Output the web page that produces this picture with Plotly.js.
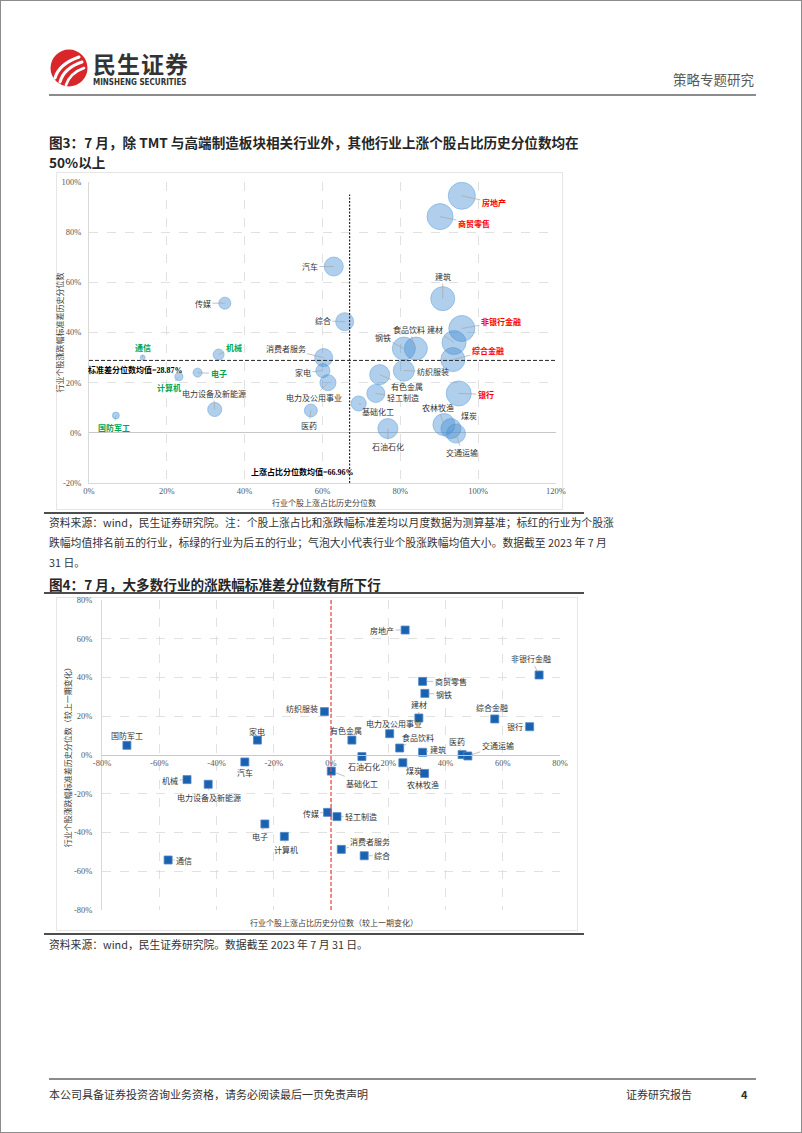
<!DOCTYPE html>
<html><head><meta charset="utf-8">
<script src="https://cdn.plot.ly/plotly-3.0.1.min.js"></script>
<style>
html,body{margin:0;padding:0;background:#fff;}
#page{position:relative;width:802px;height:1133px;box-sizing:border-box;border:1px solid #8c8c8c;overflow:hidden;font-family:"Noto Sans CJK SC","Noto Sans",sans-serif;color:#333;}
.abs{position:absolute;white-space:nowrap;}
.rule{position:absolute;}
.ttl{font-size:13.6px;font-weight:700;line-height:14px;color:#262626;}
.src{font-size:10.8px;line-height:14px;color:#333;}
</style></head>
<body>
<div id="page">
  <svg class="abs" style="left:48px;top:47px" width="40" height="40" viewBox="0 0 40 40">
    <circle cx="20" cy="20" r="18.5" fill="#d9262b"/>
    <path d="M6 30 Q10 16 30 9" stroke="#fff" stroke-width="3" fill="none" stroke-linecap="round"/>
    <path d="M11 34 Q15 20 33 14" stroke="#fff" stroke-width="3" fill="none" stroke-linecap="round"/>
    <path d="M17 37 Q21 25 35 20" stroke="#fff" stroke-width="2.6" fill="none" stroke-linecap="round"/>
  </svg>
  <div class="abs" style="left:92px;top:51px;font-size:23px;font-weight:700;line-height:23px;color:#333;letter-spacing:1px;">民生证券</div>
  <div class="abs" style="left:92px;top:77px;font-size:8px;font-weight:700;line-height:9px;color:#333;font-family:'DejaVu Sans Condensed','Liberation Sans Narrow',sans-serif;">MINSHENG SECURITIES</div>
  <div class="abs" style="left:672px;top:69px;font-size:13.5px;line-height:18px;color:#595959;">策略专题研究</div>
  <div class="rule" style="left:48px;top:93px;width:707px;height:1.5px;background:#8c8c8c;"></div>

  <div class="abs ttl" style="left:48px;top:134px;">图3：7 月，除 TMT 与高端制造板块相关行业外，其他行业上涨个股占比历史分位数均在</div>
  <div class="abs ttl" style="left:48px;top:154px;">50%以上</div>

  <div class="rule" style="left:55px;top:171px;width:507px;height:338px;border:1px solid #e6e6e6;box-sizing:border-box;"></div>
  <div id="c1" class="abs" style="left:45px;top:172px;width:535px;height:338px;"></div>
  <div class="rule" style="left:43px;top:511px;width:540px;height:2px;background:#4d4d4d;"></div>
  <div class="abs src" style="left:48px;top:514px;">资料来源：wind，民生证券研究院。注：个股上涨占比和涨跌幅标准差均以月度数据为测算基准；标红的行业为个股涨</div>
  <div class="abs src" style="left:48px;top:534px;">跌幅均值排名前五的行业，标绿的行业为后五的行业；气泡大小代表行业个股涨跌幅均值大小。数据截至 2023 年 7 月</div>
  <div class="abs src" style="left:48px;top:554px;">31 日。</div>

  <div class="abs ttl" style="left:48px;top:576px;">图4：7 月，大多数行业的涨跌幅标准差分位数有所下行</div>
  <div class="rule" style="left:43px;top:591px;width:540px;height:2px;background:#4d4d4d;"></div>
  <div class="rule" style="left:55px;top:596px;width:522px;height:334px;border:1px solid #e6e6e6;box-sizing:border-box;"></div>
  <div id="c2" class="abs" style="left:55px;top:593px;width:525px;height:338px;"></div>
  <div class="rule" style="left:43px;top:932px;width:540px;height:2px;background:#4d4d4d;"></div>
  <div class="abs src" style="left:48px;top:936px;">资料来源：wind，民生证券研究院。数据截至 2023 年 7 月 31 日。</div>

  <div class="rule" style="left:48px;top:1077px;width:707px;height:1.5px;background:#8c8c8c;"></div>
  <div class="abs" style="left:48px;top:1084px;font-size:11px;line-height:18px;color:#333;">本公司具备证券投资咨询业务资格，请务必阅读最后一页免责声明</div>
  <div class="abs" style="left:625px;top:1084px;font-size:11px;line-height:18px;color:#333;">证券研究报告</div>
  <div class="abs" style="left:740px;top:1084px;font-size:11px;line-height:18px;color:#333;font-weight:700;">4</div>
</div>
<script>
// ---------- Chart 1 data ----------
const industries1 = ['房地产','商贸零售','汽车','传媒','综合','建筑','非银行金融','钢铁','食品饮料','建材','综合金融','纺织服装','有色金属','轻工制造','基础化工','农林牧渔','煤炭','交通运输','石油石化','银行','消费者服务','家电','电力及公用事业','医药','电力设备及新能源','通信','机械','电子','计算机','国防军工'];
const upPct1  = [95.8, 90.2, 62.9, 34.9, 65.7, 90.9, 95.8, 80.9, 84.0, 93.8, 93.5, 80.9, 74.7, 73.7, 69.3, 91.2, 93.0, 94.3, 76.8, 95.0, 60.3, 60.1, 61.4, 57.0, 32.3, 13.8, 33.3, 27.9, 23.1, 6.9];
const stdPct1 = [94.5, 86.2, 66.3, 51.7, 44.3, 53.5, 41.6, 33.6, 33.6, 36.0, 29.2, 24.8, 23.2, 15.7, 11.7, 3.3, 1.7, -0.3, 1.7, 15.7, 30.0, 24.8, 20.0, 8.9, 9.3, 30.0, 31.2, 24.0, 22.4, 6.9];
const bubbleVal1 = [12.2, 11.3, 6.0, 2.4, 5.4, 9.6, 11.3, 8.8, 8.8, 9.6, 9.6, 7.4, 6.7, 5.4, 3.8, 8.1, 6.7, 6.0, 6.7, 10.4, 5.4, 3.3, 4.3, 2.8, 3.3, 0.4, 2.0, 1.35, 1.07, 0.8];
const stdMean1 = 28.87;
const upMean1 = 66.96;
const top5 = ['房地产','商贸零售','非银行金融','综合金融','银行'];
const bottom5 = ['通信','机械','电子','计算机','国防军工'];
const ticks1X = [0,20,40,60,80,100,120];
const ticks1XText = ['0%','20%','40%','60%','80%','100%','120%'];
const ticks1Y = [-20,0,20,40,60,80,100];
const ticks1YText = ['-20%','0%','20%','40%','60%','80%','100%'];

// ---------- Chart 2 data ----------
const industries2 = ['国防军工','家电','纺织服装','有色金属','房地产','非银行金融','商贸零售','钢铁','建材','综合金融','银行','电力及公用事业','食品饮料','建筑','医药','交通运输','石油石化','煤炭','农林牧渔','基础化工','传媒','轻工制造','消费者服务','综合','汽车','机械','电力设备及新能源','电子','计算机','通信'];
const upChg2  = [-71.3, -25.7, -2.3, 7.3, 25.9, 72.7, 32.0, 32.8, 30.7, 57.2, 69.4, 20.5, 24.0, 32.0, 45.8, 47.8, 10.8, 25.1, 32.7, 0.1, -1.2, 2.1, 3.6, 11.6, -30.1, -50.3, -42.9, -23.1, -16.3, -56.9];
const stdChg2 = [5.0, 7.7, 22.4, 7.7, 64.5, 41.3, 38.0, 31.8, 19.1, 18.6, 14.6, 11.0, 3.6, 1.4, 0.2, -0.5, -0.8, -4.0, -9.5, -8.3, -29.6, -31.8, -48.7, -52.0, -3.6, -12.7, -15.1, -35.6, -42.0, -54.2];
const ticks2 = [-80,-60,-40,-20,0,20,40,60,80];
const ticks2Text = ['-80%','-60%','-40%','-20%','0%','20%','40%','60%','80%'];

// ---------- label placement (pixel offsets of text from point) ----------
const off1 = {'房地产':[32,7],'商贸零售':[34,7],'汽车':[-24,0],'传媒':[-22,0],'综合':[-22,-1],'建筑':[0,-22],'非银行金融':[39,-7],'钢铁':[-21,-11],'食品饮料':[-7,-19],'建材':[-19,-13],'综合金融':[35,-9],'纺织服装':[29,1],'有色金属':[27,12],'轻工制造':[27,4],'基础化工':[19,8],'农林牧渔':[-6,-17],'煤炭':[18,-13],'交通运输':[6,19],'石油石化':[0,18],'银行':[27,1],'消费者服务':[-38,-9],'家电':[-20,2],'电力及公用事业':[-14,15],'医药':[-2,15],'电力设备及新能源':[-1,-16],'通信':[0,-10],'机械':[15,-7],'电子':[21,1],'计算机':[-10,11],'国防军工':[-2,12]};
const off2 = {'国防军工':[0,-10],'家电':[0,-9],'纺织服装':[-22,-3],'有色金属':[-6,-10],'房地产':[-23,0],'非银行金融':[-8,-16],'商贸零售':[28,0],'钢铁':[19,1],'建材':[0,-13],'综合金融':[-3,-11],'银行':[-15,0],'电力及公用事业':[4,-10],'食品饮料':[18,-11],'建筑':[15,-3],'医药':[-5,-13],'交通运输':[30,-10],'石油石化':[2,10],'煤炭':[11,8],'农林牧渔':[-2,11],'基础化工':[31,12],'传媒':[-17,1],'轻工制造':[24,0],'消费者服务':[29,-8],'综合':[18,0],'汽车':[0,11],'机械':[-17,1],'电力设备及新能源':[1,13],'电子':[-5,13],'计算机':[2,13],'通信':[16,0]};

const SERIF = "'Liberation Serif','Noto Sans CJK SC',serif";
const CJK = "'Noto Sans CJK SC',sans-serif";
const tickFont = {family: SERIF, size: 8.5, color: '#595959'};

// ---------- Chart 1 ----------
const ann1 = industries1.map((n,i)=>{
  const red = top5.includes(n), green = bottom5.includes(n);
  return {x: upPct1[i], y: stdPct1[i], xref:'x', yref:'y', text: (red||green)?'<b>'+n+'</b>':n,
    showarrow:true, ax: off1[n][0], ay: off1[n][1], arrowhead:0, arrowwidth:0.7, arrowcolor:'#a6a6a6', standoff:0,
    font:{family:CJK, size:8, color: red?'#ff0000':(green?'#00a651':'#333333')}};
});
ann1.push({x:12, y:25.1, xref:'x', yref:'y', text:'<b>标准差分位数均值='+stdMean1.toFixed(2)+'%</b>', showarrow:false, font:{family:SERIF, size:8, color:'#000'}});
ann1.push({x:54.9, y:-15.7, xref:'x', yref:'y', text:'<b>上涨占比分位数均值='+upMean1.toFixed(2)+'%</b>', showarrow:false, font:{family:SERIF, size:8, color:'#000'}});
ann1.push({x:0.503, y:-0.066, xref:'paper', yref:'paper', xanchor:'center', yanchor:'middle', text:'行业个股上涨占比历史分位数', showarrow:false, font:{family:CJK, size:8, color:'#404040'}});
ann1.push({x:-0.064, y:0.5, xref:'paper', yref:'paper', xanchor:'center', yanchor:'middle', text:'行业个股涨跌幅标准差历史分位数', textangle:-90, showarrow:false, font:{family:CJK, size:8, color:'#404040'}});

const trace1 = {type:'scatter', mode:'markers', x: upPct1, y: stdPct1, text: industries1,
  marker:{size: bubbleVal1, sizemode:'area', sizeref: 1/30, color:'rgba(68,142,210,0.6)', line:{color:'rgba(68,142,210,0.85)', width:0.8}},
  hoverinfo:'skip'};

const layout1 = {
  width:535, height:338, margin:{l:43, r:25, t:9, b:28},
  paper_bgcolor:'rgba(0,0,0,0)', plot_bgcolor:'rgba(0,0,0,0)', showlegend:false, hovermode:false,
  xaxis:{range:[0,120], tickmode:'array', tickvals:ticks1X, ticktext:ticks1XText, tickfont:tickFont, ticks:'', ticklabelstandoff:0,
    showgrid:true, gridcolor:'#d9d9d9', griddash:'dash', gridwidth:0.8, zeroline:false, showline:true, linecolor:'#d9d9d9', linewidth:1},
  yaxis:{range:[-20,100], tickmode:'array', tickvals:ticks1Y, ticktext:ticks1YText, tickfont:tickFont, ticks:'', ticklabelstandoff:5,
    showgrid:true, gridcolor:'#d9d9d9', griddash:'dash', gridwidth:0.8, zeroline:true, zerolinecolor:'#c8c8c8', zerolinewidth:1, showline:true, linecolor:'#d9d9d9', linewidth:1},
  shapes:[
    {type:'line', xref:'x', yref:'y', x0:0, x1:120, y0:stdMean1, y1:stdMean1, line:{color:'#262626', width:1, dash:'4px,2px'}},
    {type:'line', xref:'x', yref:'y', x0:upMean1, x1:upMean1, y0:-20, y1:95, line:{color:'#262626', width:1.2, dash:'2px,1.5px'}}
  ],
  annotations: ann1
};
Plotly.newPlot('c1', [trace1], layout1, {staticPlot:true, displayModeBar:false});

// ---------- Chart 2 ----------
const ann2 = industries2.map((n,i)=>({x: upChg2[i], y: stdChg2[i], xref:'x', yref:'y', text:n,
  showarrow:true, ax: off2[n][0], ay: off2[n][1], arrowhead:0, arrowwidth:0.7, arrowcolor:'#a6a6a6', standoff:4,
  font:{family:CJK, size:8, color:'#333333'}}));
ann2.push({x:0.507, y:-0.039, xref:'paper', yref:'paper', xanchor:'center', yanchor:'middle', text:'行业个股上涨占比历史分位数（较上一期变化）', showarrow:false, font:{family:CJK, size:8, color:'#404040'}});
ann2.push({x:-0.076, y:0.5, xref:'paper', yref:'paper', xanchor:'center', yanchor:'middle', text:'行业个股涨跌幅标准差历史分位数（较上一期变化）', textangle:-90, showarrow:false, font:{family:CJK, size:8, color:'#404040'}});

const trace2 = {type:'scatter', mode:'markers', x: upChg2, y: stdChg2, text: industries2,
  marker:{symbol:'square', size:8, color:'#1a62b0', line:{color:'#4f86c6', width:0.8}}, hoverinfo:'skip'};

const layout2 = {
  width:525, height:338, margin:{l:46, r:21, t:6, b:22},
  paper_bgcolor:'rgba(0,0,0,0)', plot_bgcolor:'rgba(0,0,0,0)', showlegend:false, hovermode:false,
  xaxis:{range:[-80,80], tickmode:'array', tickvals:ticks2, ticktext:ticks2Text, tickfont:tickFont, ticks:'', ticklabelstandoff:0,
    anchor:'free', position:0.5, showgrid:true, gridcolor:'#d9d9d9', griddash:'dash', gridwidth:0.8, zeroline:false,
    showline:true, linecolor:'#c8c8c8', linewidth:1},
  yaxis:{range:[-80,80], tickmode:'array', tickvals:ticks2, ticktext:ticks2Text, tickfont:tickFont, ticks:'', ticklabelstandoff:7,
    showgrid:true, gridcolor:'#d9d9d9', griddash:'dash', gridwidth:0.8, zeroline:false, showline:true, linecolor:'#d9d9d9', linewidth:1},
  shapes:[
    {type:'line', xref:'x', yref:'y', x0:0, x1:0, y0:-80, y1:80, line:{color:'#e8474c', width:1.2, dash:'4px,2px'}}
  ],
  annotations: ann2
};
Plotly.newPlot('c2', [trace2], layout2, {staticPlot:true, displayModeBar:false});
</script>
</body></html>
